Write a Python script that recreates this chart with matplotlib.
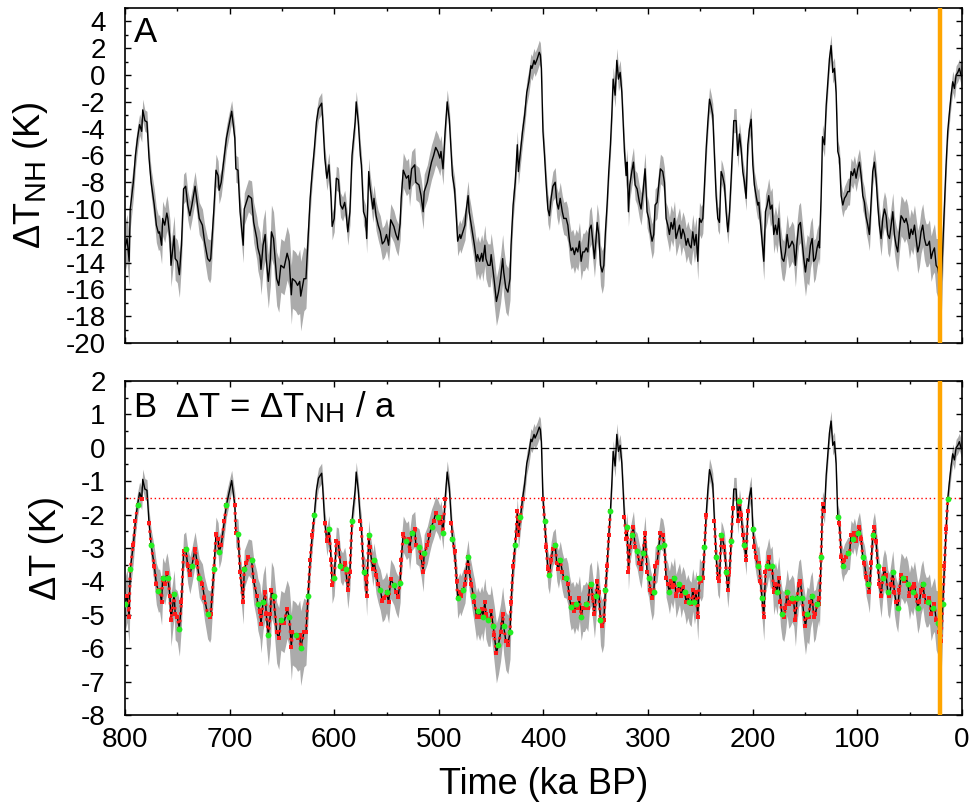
import numpy as np
import matplotlib
matplotlib.use('Agg')
import matplotlib.pyplot as plt
from matplotlib.ticker import MultipleLocator
try:
    import matplotlib._mathtext as _mt
    _mt.SHRINK_FACTOR = 0.8
except Exception:
    pass

plt.rcParams['font.family'] = ['Liberation Sans', 'DejaVu Sans']
plt.rcParams['mathtext.fontset'] = 'custom'
plt.rcParams['mathtext.rm'] = 'Liberation Sans'
plt.rcParams['mathtext.it'] = 'Liberation Sans:italic'
plt.rcParams['axes.unicode_minus'] = False

# ---- data (time in ka BP, NH temperature anomaly in K) ----
time_ka = [
    800, 798, 796, 795, 792, 790, 788, 786, 784, 783,
    781, 779, 777, 775, 772, 770, 768, 767, 765, 764,
    762, 760, 759, 757, 756, 753, 752, 750, 748, 746,
    744, 742, 740, 738, 736, 733, 731, 729, 726, 724,
    721, 719, 718, 715, 713, 711, 710, 708, 705, 703,
    701, 698, 695, 694, 692, 690, 687, 686, 684, 682,
    679, 677, 674, 673, 671, 670, 668, 666, 665, 663,
    661, 660, 658, 655, 653, 651, 648, 645, 643, 641,
    640, 637, 635, 633, 632, 629, 627, 625, 623, 621,
    619, 617, 615, 612, 611, 609, 607, 605, 603, 602,
    600, 598, 596, 594, 592, 590, 589, 587, 585, 583,
    580, 579, 577, 575, 574, 572, 570, 569, 567, 566,
    563, 562, 560, 558, 556, 554, 552, 550, 548, 546,
    543, 541, 539, 537, 536, 534, 531, 529, 528, 526,
    523, 522, 519, 517, 515, 514, 511, 509, 507, 505,
    503, 501, 499, 498, 496, 494, 492, 490, 488, 487,
    485, 483, 482, 480, 479, 477, 475, 474, 472, 471,
    469, 467, 466, 464, 463, 461, 459, 458, 456, 455,
    453, 451, 450, 448, 447, 445, 443, 441, 439, 438,
    436, 434, 432, 431, 429, 427, 425, 424, 422, 420,
    418, 416, 414, 412, 411, 409, 408, 406, 404, 403,
    402, 400.5, 399, 397.4, 395.8, 394.3, 392.7, 391, 388.8, 387.3,
    385.7, 384, 382, 380.6, 378.3, 376.7, 375.1, 373.6, 372, 370.4,
    368.8, 367.2, 365.6, 364, 362.4, 360.8, 359.2, 357.6, 356, 354.4,
    352.9, 351.3, 349.7, 348.7, 347.1, 345.5, 343.9, 342.3, 340.8, 339.2,
    337.6, 336, 334.7, 333.4, 331.5, 329.9, 328.3, 326.7, 325.1, 323.9,
    322.6, 321, 320, 318.8, 317.5, 315.6, 314, 312.4, 310.5, 308.3,
    306.7, 304.8, 302.9, 301, 299.4, 297.8, 296.2, 294.6, 293.3, 291.4,
    289.8, 288.2, 286, 284.4, 282.8, 281.2, 279.6, 278, 276.4, 274.8,
    273.3, 271.7, 270, 268.4, 266.8, 265.2, 263.6, 262, 260.5, 258.9,
    257.3, 255.7, 254.1, 252.5, 250.9, 249.3, 247.7, 246.1, 244.5, 242.9,
    241.3, 239.8, 238.2, 236.6, 235, 233.4, 231.8, 230.2, 228.9, 227,
    225.4, 223.8, 222.2, 220.6, 219, 218.1, 215.9, 214.3, 212.7, 211.1,
    209.5, 207.9, 206.3, 204.7, 203.1, 201.5, 199.9, 198.4, 196.8, 195.2,
    194.2, 192.6, 191, 189.4, 187.8, 186.2, 184.7, 183.1, 181.5, 179.9,
    178.3, 176.7, 175.1, 173.5, 171.9, 170.3, 168.7, 167.1, 165.5, 163.9,
    162.4, 160.8, 159.2, 157.6, 156, 154.4, 152.8, 151.2, 149.6, 148,
    146.4, 144.8, 143.2, 141.7, 140.1, 138.5, 136.9, 136.2, 134.6, 133.3,
    131.4, 129.8, 128.2, 126.7, 125.1, 123.5, 121.9, 120.3, 118.7, 117.1,
    115.5, 113.9, 112.3, 110.7, 109.1, 107.5, 106, 104.4, 102.8, 101.2,
    99.6, 98, 96.4, 94.8, 93.2, 91.6, 90, 88.5, 86.9, 85.3,
    83.7, 82.1, 80.5, 78.9, 77.3, 75.7, 74.1, 72.5, 70.9, 69.3,
    67.7, 66.1, 64.6, 63, 61.4, 59.8, 58.2, 56.6, 55, 53.4,
    51.8, 50.2, 48.6, 47, 45.4, 43.8, 42.3, 40.7, 39.1, 37.5,
    35.9, 34.3, 32.7, 31.1, 29.5, 27.9, 26.3, 24.7, 23.1, 21.6,
    20, 18.4, 16.8, 15.2, 13.6, 12, 10.4, 8.8, 7.2, 5.6,
    4, 2.5, 0.9, 0.2,
]

dT_NH = [
    -12.9, -12.2, -13.9, -10.0, -8.0, -6.0, -4.7, -3.7, -4.2, -2.6,
    -3.4, -3.5, -6.2, -8.0, -9.7, -11.2, -11.8, -11.7, -12.7, -10.7,
    -11.2, -10.3, -10.7, -12.2, -14.2, -12.0, -13.7, -13.9, -14.9, -12.7,
    -8.5, -8.3, -9.7, -10.5, -9.7, -8.3, -9.5, -10.7, -11.2, -12.4,
    -13.7, -13.9, -13.7, -10.0, -7.1, -7.5, -8.6, -8.0, -6.0, -4.7,
    -3.9, -2.7, -4.7, -7.0, -7.1, -10.2, -12.7, -10.0, -9.5, -9.0,
    -9.2, -11.0, -12.2, -12.9, -13.5, -14.5, -12.7, -11.9, -13.7, -15.4,
    -13.7, -11.7, -12.2, -15.2, -15.7, -14.2, -14.4, -13.3, -13.9, -16.4,
    -15.2, -15.4, -15.7, -15.4, -16.5, -15.2, -15.2, -12.2, -9.2, -7.2,
    -5.5, -3.5, -2.5, -2.1, -3.3, -6.2, -7.7, -6.7, -9.2, -11.3,
    -10.7, -7.7, -7.8, -9.7, -10.0, -9.5, -10.0, -11.7, -10.2, -6.0,
    -3.5, -2.0, -3.5, -6.0, -6.7, -10.2, -10.7, -12.2, -7.2, -8.2,
    -10.0, -9.2, -10.5, -11.2, -11.7, -12.6, -12.4, -11.9, -12.7, -10.8,
    -11.3, -11.9, -12.3, -11.1, -9.2, -7.1, -7.7, -7.5, -8.5, -7.0,
    -6.7, -8.0, -8.2, -9.0, -10.2, -8.7, -8.0, -7.2, -6.5, -6.0,
    -5.4, -5.7, -6.2, -5.7, -7.0, -4.2, -2.0, -3.3, -6.2, -7.5,
    -8.5, -11.0, -12.4, -11.9, -12.2, -11.7, -11.2, -10.2, -9.0, -10.2,
    -11.2, -12.2, -12.7, -13.9, -13.4, -13.9, -13.3, -13.9, -12.7, -13.7,
    -14.2, -14.2, -13.4, -14.7, -15.4, -16.9, -16.2, -15.2, -13.7, -14.7,
    -15.9, -16.2, -15.2, -12.7, -9.7, -8.0, -5.2, -7.2, -5.7, -4.2,
    -3.0, -1.3, -0.5, 0.7, 0.5, 1.1, 0.8, 1.2, 1.7, 1.5,
    0.5, -4.2, -6.0, -8.2, -10.0, -10.5, -9.2, -8.3, -8.0, -9.5,
    -10.0, -9.2, -10.2, -10.7, -10.7, -11.2, -12.4, -13.1, -12.9, -13.4,
    -12.9, -13.2, -12.4, -13.9, -13.2, -13.2, -12.9, -13.2, -11.5, -11.2,
    -12.4, -13.7, -12.2, -11.0, -11.9, -14.2, -14.7, -14.2, -11.7, -9.7,
    -7.2, -5.2, -3.0, -0.3, -1.5, 1.1, -0.3, 0.2, -1.3, -3.5,
    -5.7, -7.5, -6.5, -10.2, -8.2, -7.2, -6.5, -8.2, -8.5, -9.5,
    -10.0, -8.7, -7.0, -10.2, -10.7, -11.7, -12.4, -11.9, -9.7, -9.5,
    -8.2, -7.0, -7.2, -8.0, -10.7, -11.2, -11.9, -11.0, -11.5, -10.7,
    -12.2, -11.7, -11.2, -12.2, -11.5, -11.9, -12.7, -12.2, -12.7, -12.9,
    -11.7, -12.7, -11.9, -13.9, -10.7, -11.0, -10.7, -8.2, -5.5, -3.5,
    -1.8, -2.3, -3.0, -6.0, -9.0, -10.7, -11.0, -7.2, -7.5, -8.2,
    -10.2, -11.7, -10.2, -7.7, -5.0, -3.4, -3.4, -6.0, -4.4, -5.5,
    -7.2, -8.0, -9.2, -5.2, -4.0, -3.3, -6.7, -8.2, -9.0, -9.7,
    -9.5, -11.0, -12.4, -13.9, -10.2, -9.7, -9.0, -10.0, -9.7, -11.9,
    -11.2, -11.9, -10.7, -12.7, -13.7, -13.9, -13.2, -11.9, -12.9, -12.7,
    -12.4, -12.7, -14.2, -12.4, -11.2, -11.0, -12.4, -13.7, -14.7, -13.7,
    -13.9, -12.7, -12.2, -13.9, -13.7, -12.9, -12.4, -12.9, -9.0, -4.6,
    -5.2, -2.3, -0.5, 1.2, 2.2, 0.2, 0.5, -1.3, -5.7, -6.2,
    -9.0, -9.7, -9.2, -9.0, -8.7, -8.7, -7.2, -7.5, -7.0, -7.7,
    -7.0, -6.5, -7.5, -9.0, -9.5, -10.6, -11.2, -11.9, -9.5, -7.2,
    -6.5, -7.7, -9.7, -11.2, -12.2, -10.7, -10.0, -10.5, -11.9, -12.2,
    -11.2, -10.2, -11.9, -12.7, -13.2, -11.7, -10.5, -10.7, -11.0, -10.7,
    -11.2, -12.2, -11.5, -11.9, -11.2, -12.2, -13.2, -12.7, -11.7, -11.2,
    -12.2, -12.7, -12.7, -12.4, -13.7, -13.2, -12.9, -14.2, -14.4, -15.2,
    -15.9, -12.9, -9.7, -6.7, -4.2, -2.8, -1.5, -0.5, -1.0, 0.0,
    0.2, 0.5, 0.0, -0.1,
]

# half-width of the grey uncertainty band in panel A (K)
dT_NH_err = [
    1.8, 1.8, 1.8, 1.5, 1.2, 1.0, 0.9, 0.8, 0.8, 0.8,
    0.8, 0.8, 0.9, 1.0, 1.2, 1.3, 1.3, 1.3, 1.4, 1.3,
    1.3, 1.3, 1.3, 1.4, 1.6, 1.5, 1.6, 1.6, 1.7, 1.4,
    1.1, 1.1, 1.1, 1.1, 1.1, 1.1, 1.1, 1.2, 1.2, 1.3,
    1.5, 1.6, 1.5, 1.2, 1.2, 1.1, 1.0, 1.0, 1.0, 0.9,
    0.9, 0.8, 0.9, 1.0, 1.0, 1.2, 1.3, 1.2, 1.2, 1.2,
    1.3, 1.5, 1.6, 1.7, 1.8, 1.9, 1.9, 1.9, 2.0, 2.0,
    2.0, 2.0, 2.0, 2.0, 2.0, 2.0, 2.0, 2.0, 2.0, 2.2,
    2.2, 2.2, 2.2, 2.4, 2.6, 2.4, 2.2, 1.5, 1.1, 0.9,
    0.8, 0.8, 0.8, 0.8, 0.8, 0.9, 0.9, 0.9, 0.9, 1.0,
    1.0, 0.9, 0.9, 0.9, 0.9, 0.9, 0.9, 1.0, 1.0, 0.9,
    0.8, 0.8, 0.8, 0.9, 0.9, 1.0, 1.0, 1.1, 1.0, 1.0,
    1.0, 1.0, 1.1, 1.1, 1.2, 1.2, 1.2, 1.2, 1.2, 1.2,
    1.2, 1.2, 1.2, 1.2, 1.2, 1.3, 1.3, 1.3, 1.3, 1.3,
    1.3, 1.3, 1.3, 1.3, 1.3, 1.3, 1.3, 1.3, 1.3, 1.3,
    1.3, 1.3, 1.3, 1.2, 1.2, 1.0, 0.9, 0.9, 0.9, 0.9,
    0.9, 1.0, 1.1, 1.1, 1.1, 1.1, 1.1, 1.1, 1.1, 1.2,
    1.3, 1.3, 1.4, 1.4, 1.4, 1.4, 1.4, 1.5, 1.5, 1.5,
    1.6, 1.6, 1.6, 1.7, 1.8, 1.8, 1.8, 1.8, 1.8, 1.8,
    1.8, 1.8, 1.6, 1.3, 1.1, 1.0, 1.0, 1.0, 1.0, 1.0,
    0.9, 0.9, 0.9, 0.9, 0.9, 0.9, 0.9, 0.9, 0.9, 0.9,
    0.9, 0.9, 0.9, 1.0, 1.1, 1.1, 1.1, 1.1, 1.1, 1.1,
    1.2, 1.2, 1.2, 1.2, 1.3, 1.3, 1.4, 1.4, 1.4, 1.4,
    1.4, 1.4, 1.4, 1.4, 1.4, 1.4, 1.4, 1.4, 1.4, 1.4,
    1.4, 1.4, 1.4, 1.4, 1.4, 1.5, 1.6, 1.5, 1.2, 1.0,
    0.9, 0.9, 0.9, 0.9, 0.9, 0.9, 0.9, 0.9, 0.9, 0.9,
    0.9, 1.0, 1.0, 1.1, 1.1, 1.1, 1.1, 1.1, 1.2, 1.2,
    1.2, 1.2, 1.2, 1.2, 1.2, 1.2, 1.3, 1.3, 1.2, 1.2,
    1.2, 1.1, 1.1, 1.1, 1.2, 1.3, 1.3, 1.3, 1.3, 1.3,
    1.3, 1.3, 1.3, 1.3, 1.3, 1.3, 1.3, 1.3, 1.3, 1.3,
    1.3, 1.3, 1.3, 1.4, 1.2, 1.2, 1.1, 1.0, 0.9, 0.9,
    0.9, 0.9, 0.9, 0.9, 0.9, 0.9, 0.9, 0.9, 0.9, 0.9,
    0.9, 0.9, 0.9, 0.9, 0.9, 0.9, 0.9, 0.9, 0.9, 0.9,
    0.9, 0.9, 0.9, 0.9, 0.9, 0.9, 1.0, 1.0, 1.1, 1.1,
    1.1, 1.2, 1.3, 1.4, 1.3, 1.3, 1.3, 1.3, 1.3, 1.4,
    1.4, 1.4, 1.4, 1.5, 1.5, 1.5, 1.5, 1.5, 1.5, 1.5,
    1.5, 1.5, 1.6, 1.5, 1.5, 1.5, 1.6, 1.7, 1.8, 1.8,
    1.8, 1.7, 1.6, 1.6, 1.5, 1.4, 1.3, 1.3, 1.0, 0.9,
    0.9, 0.8, 0.8, 0.8, 0.8, 0.8, 0.8, 0.8, 0.8, 0.8,
    0.9, 0.9, 0.9, 1.0, 1.0, 1.0, 1.0, 1.0, 1.0, 1.0,
    1.0, 1.0, 1.0, 1.1, 1.1, 1.2, 1.2, 1.2, 1.1, 1.0,
    1.0, 1.1, 1.2, 1.3, 1.3, 1.3, 1.3, 1.3, 1.4, 1.4,
    1.4, 1.4, 1.4, 1.5, 1.5, 1.5, 1.5, 1.5, 1.5, 1.5,
    1.5, 1.5, 1.5, 1.5, 1.5, 1.5, 1.6, 1.6, 1.6, 1.6,
    1.6, 1.6, 1.6, 1.6, 1.7, 1.7, 1.8, 2.0, 2.2, 2.5,
    2.7, 2.0, 1.4, 1.0, 0.8, 0.8, 0.8, 0.8, 0.8, 0.7,
    0.7, 0.7, 0.7, 0.7,
]

polar_amplification_a = 2.75     # a in  dT = dT_NH / a
a_rel_uncertainty = 0.10         # relative uncertainty of a (widens band B)
lgm_time_ka = 21.0               # orange marker
threshold_K = -1.5               # red dotted line in panel B

assert len(time_ka) == len(dT_NH) == len(dT_NH_err)

t = np.array(time_ka, dtype=float)
A = np.array(dT_NH)
eA = np.array(dT_NH_err)
B = A / polar_amplification_a
eB = np.sqrt((eA / polar_amplification_a) ** 2 + (a_rel_uncertainty * B) ** 2)

fig = plt.figure(figsize=(9.71, 8.09), dpi=100)
axA = fig.add_axes([0.1287, 0.576, 0.862, 0.414])
axB = fig.add_axes([0.1287, 0.1162, 0.862, 0.4129])

band_col = '#ababab'
orange = '#ffa500'

# Panel A
axA.fill_between(t, A - eA, A + eA, color=band_col, lw=0, zorder=1)
axA.plot(t, A, color='black', lw=1.0, zorder=2)
axA.axvline(lgm_time_ka, color=orange, lw=3.2, zorder=3)
axA.set_xlim(800, 0)
axA.set_ylim(-20, 5)
axA.yaxis.set_major_locator(MultipleLocator(2))
axA.yaxis.set_minor_locator(MultipleLocator(1))
axA.set_yticks(np.arange(-20, 5, 2))
axA.set_ylabel('ΔT$_{\\mathrm{NH}}$ (K)', fontsize=26)
axA.yaxis.set_label_coords(-0.090, 0.5)
axA.text(0.011, 0.975, 'A', transform=axA.transAxes, fontsize=25, va='top', ha='left')

# Panel B
axB.fill_between(t, B - eB, B + eB, color=band_col, lw=0, zorder=1)
axB.plot(t, B, color='black', lw=1.0, zorder=2)
axB.axhline(0, color='black', lw=0.9, ls=(0, (6, 3)), zorder=2)
axB.axhline(threshold_K, color='red', lw=1.0, ls=(0, (1, 2)), zorder=2)
below = B < threshold_K
B_below = np.where(below, B, np.nan)
axB.plot(t, B_below, color='#ff1a1a', lw=2.2, ls=(0, (0.8, 1.6)), zorder=3)
axB.plot(t[below], B[below], 's', color='#ff1a1a', ms=2.4, mew=0, zorder=4)
axB.plot(t[below][::3], B[below][::3], 'o', color='#22ee22', ms=4.2, mew=0, zorder=5)
axB.axvline(lgm_time_ka, color=orange, lw=3.2, zorder=6)
axB.set_xlim(800, 0)
axB.set_ylim(-8, 2)
axB.yaxis.set_major_locator(MultipleLocator(1))
axB.yaxis.set_minor_locator(MultipleLocator(0.5))
axB.set_ylabel('ΔT (K)', fontsize=26)
axB.yaxis.set_label_coords(-0.073, 0.5)
axB.set_xlabel('Time (ka BP)', fontsize=26)
axB.xaxis.set_label_coords(0.5, -0.155)
axB.text(0.009, 0.975, 'B  ΔT = ΔT$_{\\mathrm{NH}}$ / a', transform=axB.transAxes,
         fontsize=25, va='top', ha='left')

for ax in (axA, axB):
    ax.xaxis.set_major_locator(MultipleLocator(100))
    ax.xaxis.set_minor_locator(MultipleLocator(50))
    ax.tick_params(which='both', direction='in', top=True, right=True,
                   labelsize=20, width=1.0)
    ax.tick_params(which='major', length=4.5)
    ax.tick_params(which='minor', length=2.5)
    ax.tick_params(axis='y', which='major', pad=14)
    ax.tick_params(axis='x', which='major', pad=9)
    for s in ax.spines.values():
        s.set_linewidth(1.2)
axA.tick_params(labelbottom=False)

fig.savefig('out.png', dpi=100)
